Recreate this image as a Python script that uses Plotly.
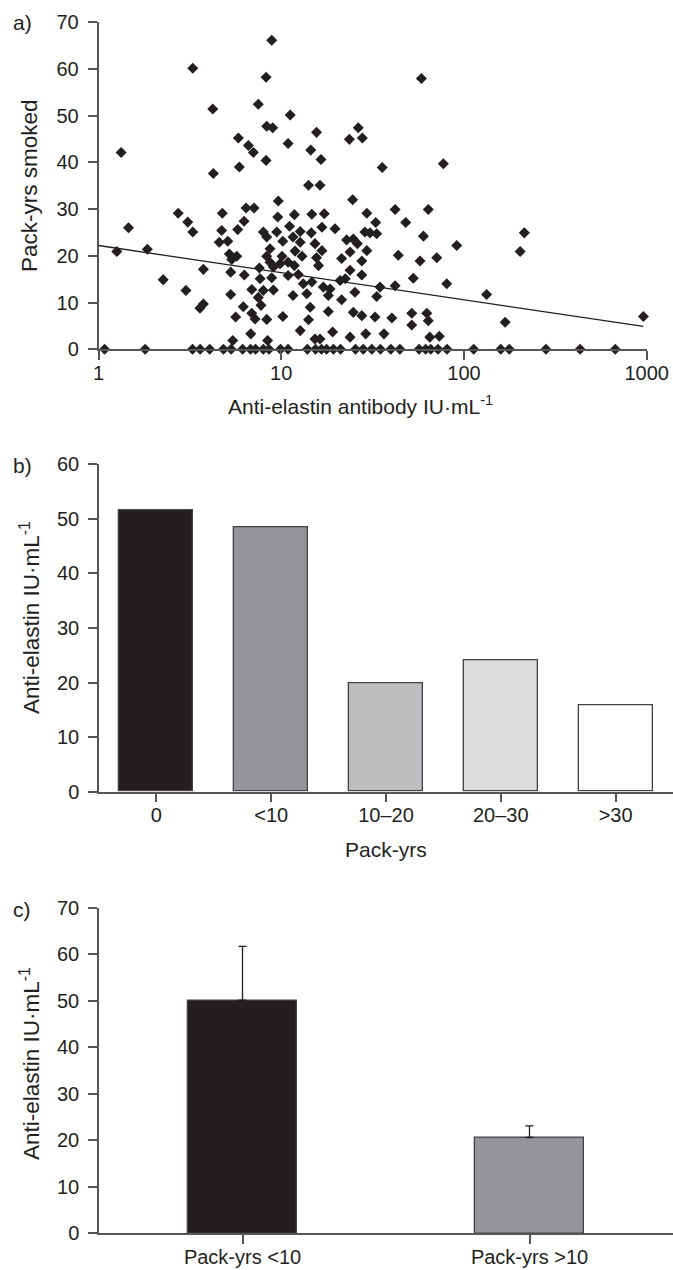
import plotly.graph_objects as go

# ---------------- Panel a: scatter data ----------------
smoker_antibody = [
    8.87, 3.28, 8.26, 4.22, 7.49, 8.33, 8.98, 5.83, 6.61, 7.04, 1.33, 8.26, 5.90, 4.25,
    58.5, 11.2, 15.6, 10.9, 26.4, 23.6, 27.8, 14.5, 16.5, 35.7, 77.1,
    2.73, 4.76, 6.42, 7.10, 1.46, 3.08, 3.28, 4.72, 5.78, 6.26, 7.98, 8.33, 4.58, 5.10,
    8.68, 1.26, 1.85, 5.20, 5.71, 5.36, 7.59, 3.75, 5.29, 6.28, 7.66, 2.26, 3.01, 5.29,
    6.90, 7.49, 7.98, 7.75, 3.75, 3.59, 6.20, 6.90, 5.63, 7.19, 8.33, 6.81, 5.43,
    14.1, 16.3, 9.64, 24.6, 42.0, 63.8, 29.4, 48.0, 32.9, 9.57, 11.8, 14.7, 17.2, 11.1,
    16.7, 19.7, 12.7, 14.6, 28.7, 30.6, 33.3, 60.0, 9.45, 11.6, 22.8, 24.8, 26.1, 10.2,
    12.7, 15.3, 16.7, 29.4, 11.9, 23.8, 8.33, 10.1, 13.0, 15.6, 21.4, 43.7, 57.5, 71.0,
    27.6, 8.68, 9.85, 10.9, 11.8, 16.0, 9.06, 23.8, 10.9, 12.4, 21.0, 22.4, 27.6, 8.87,
    34.7, 42.0, 52.8, 13.2, 14.7, 17.0, 18.5, 9.06, 13.8, 11.6, 18.1, 21.4, 25.3, 33.3,
    14.4, 18.1, 24.8, 27.6, 32.6, 40.3, 51.8, 62.6, 63.8, 51.8, 10.2, 14.1, 12.7, 19.1,
    23.8, 29.0, 36.5, 15.3, 16.3, 65.0,
    214, 91.3, 203, 80.5, 133, 168, 959, 73.3, 8.42,
]
smoker_packyrs = [
    66.1, 60.1, 58.2, 51.4, 52.4, 47.7, 47.4, 45.2, 43.6, 42.1, 42.1, 40.4, 39.0, 37.6,
    57.9, 50.1, 46.4, 44.0, 47.4, 44.9, 45.2, 42.6, 40.6, 38.9, 39.7,
    29.1, 29.1, 30.2, 30.2, 26.0, 27.2, 25.1, 25.4, 25.6, 27.4, 25.1, 24.0, 22.9, 23.1,
    21.5, 20.9, 21.4, 20.4, 19.9, 19.2, 17.4, 17.1, 16.5, 15.9, 15.1, 14.9, 12.6, 11.7,
    12.8, 11.1, 12.6, 9.4, 9.7, 8.8, 9.1, 7.7, 6.9, 6.5, 6.4, 3.3, 1.9,
    35.1, 35.1, 31.7, 32.0, 29.9, 29.9, 29.1, 27.1, 27.1, 28.3, 28.8, 28.9, 29.0, 26.3,
    26.1, 25.8, 25.2, 24.9, 25.1, 24.9, 24.7, 24.2, 25.1, 24.0, 23.4, 23.6, 22.6, 23.1,
    22.9, 22.6, 21.1, 21.1, 21.0, 20.8, 19.9, 19.9, 19.9, 19.6, 19.4, 20.1, 18.9, 19.6,
    18.9, 18.6, 18.3, 18.6, 17.9, 17.9, 17.6, 16.9, 15.8, 16.0, 14.7, 15.1, 15.9, 15.3,
    13.3, 13.6, 15.2, 14.0, 14.4, 13.3, 12.9, 12.7, 11.9, 11.5, 11.5, 10.6, 12.2, 11.3,
    9.0, 8.1, 7.9, 7.2, 6.9, 6.7, 7.7, 7.7, 6.1, 5.2, 7.0, 6.3, 4.0, 3.7,
    2.6, 3.3, 3.3, 2.2, 2.2, 2.6,
    24.9, 22.2, 20.9, 14.0, 11.7, 5.8, 7.0, 2.8, 1.9,
]
nonsmoker_antibody = [
    1.08, 1.80, 3.27, 3.60, 4.06, 4.83, 5.32, 6.15, 6.79, 7.24, 7.98, 8.57, 9.91, 10.9,
    13.9, 15.4, 16.6, 17.7, 19.3, 21.1, 25.5, 28.1, 31.3, 34.9, 39.8, 44.6, 56.8, 61.7,
    65.8, 72.1, 80.8, 113, 159, 177, 281, 432, 673,
]
fit_antibody = [1, 959]
fit_packyrs = [22.2, 4.9]

a_tickvals = [1, 10, 100, 1000]
a_ticktext = ["1", "10", "100", "1000"]

# ---------------- Panel b ----------------
b_categories = ["0", "<10", "10–20", "20–30", ">30"]
b_values = [51.6, 48.5, 19.9, 24.1, 15.9]
b_colors = ["#231f20", "#939598", "#bcbec0", "#dcddde", "#ffffff"]

# ---------------- Panel c ----------------
c_categories = ["Pack-yrs <10", "Pack-yrs >10"]
c_values = [50.1, 20.6]
c_errors = [11.6, 2.5]
c_colors = ["#231f20", "#939598"]

# ---------------- Figure ----------------
W, H = 673, 1270
TXT = "#231f20"
AX = "#555557"
FONT = "Liberation Sans, Arial, sans-serif"
TICK_SIZE = 20
XTITLE_SIZE = 21
YTITLE_SIZE = 22.5


def fx(p):
    return p / W


def fy(p):
    return 1 - p / H


all_x = smoker_antibody + nonsmoker_antibody
all_y = smoker_packyrs + [0] * len(nonsmoker_antibody)

fig = go.Figure()
fig.add_trace(go.Scatter(
    x=all_x, y=all_y, mode="markers", cliponaxis=False,
    marker=dict(symbol="diamond", size=8.5, color=TXT, line=dict(width=0)),
    xaxis="x", yaxis="y", showlegend=False,
))
fig.add_trace(go.Scatter(
    x=fit_antibody, y=fit_packyrs, mode="lines", cliponaxis=False,
    line=dict(color=TXT, width=1.3), xaxis="x", yaxis="y", showlegend=False,
))
fig.add_trace(go.Bar(
    x=b_categories, y=b_values, width=0.645,
    marker=dict(color=b_colors, line=dict(color="#414042", width=1.3)),
    xaxis="x2", yaxis="y2", showlegend=False,
))
fig.add_trace(go.Bar(
    x=c_categories, y=c_values, width=0.382,
    marker=dict(color=c_colors, line=dict(color="#414042", width=1.3)),
    error_y=dict(type="data", array=c_errors, arrayminus=[0, 0], symmetric=False,
                 color=TXT, thickness=1.3, width=4),
    xaxis="x3", yaxis="y3", showlegend=False,
))

axis_common = dict(
    showline=True, linecolor=AX, linewidth=1.5, ticks="outside", ticklen=9,
    tickwidth=1.5, tickcolor=AX, showgrid=False, zeroline=False,
    tickfont=dict(family=FONT, size=TICK_SIZE, color=TXT), fixedrange=True,
)

fig.update_layout(
    width=W, height=H, margin=dict(l=0, r=0, t=0, b=0, autoexpand=False),
    paper_bgcolor="white", plot_bgcolor="white", bargap=0,
    xaxis=dict(domain=[fx(98.5), fx(646.7)], type="log", range=[0, 3],
               tickvals=a_tickvals, ticktext=a_ticktext, anchor="y",
               ticklabelstandoff=-4, **axis_common),
    yaxis=dict(domain=[fy(349.3), fy(22)], range=[0, 70], dtick=10, tick0=0,
               anchor="x", ticklabelstandoff=5, **axis_common),
    xaxis2=dict(domain=[fx(99), 1], type="category", range=[-0.5, 4.5],
                anchor="y2", ticklabelstandoff=-4, **axis_common),
    yaxis2=dict(domain=[fy(791.7), fy(464.3)], range=[0, 60], dtick=10, tick0=0,
                anchor="x2", ticklabelstandoff=5, **axis_common),
    xaxis3=dict(domain=[fx(99), 1], type="category", range=[-0.5, 1.5],
                anchor="y3", ticklabelstandoff=-4, **axis_common),
    yaxis3=dict(domain=[fy(1233.3), fy(907.7)], range=[0, 70], dtick=10, tick0=0,
                anchor="x3", ticklabelstandoff=5, **axis_common),
)

xfont = dict(family=FONT, size=XTITLE_SIZE, color=TXT)
yfont = dict(family=FONT, size=YTITLE_SIZE, color=TXT)
ann = [
    dict(text="a)", x=fx(22), y=fy(22), xanchor="center", yanchor="middle", font=xfont),
    dict(text="b)", x=fx(22), y=fy(466), xanchor="center", yanchor="middle", font=xfont),
    dict(text="c)", x=fx(22), y=fy(909), xanchor="center", yanchor="middle", font=xfont),
    dict(text="Pack-yrs smoked", x=fx(30), y=fy(186), textangle=-90,
         xanchor="center", yanchor="middle", font=yfont),
    dict(text="Anti-elastin antibody IU·mL<sup>-1</sup>", x=fx(360), y=fy(405),
         xanchor="center", yanchor="middle", font=xfont),
    dict(text="Anti-elastin IU·mL<sup>-1</sup>", x=fx(30), y=fy(618), textangle=-90,
         xanchor="center", yanchor="middle", font=yfont),
    dict(text="Pack-yrs", x=fx(386), y=fy(849),
         xanchor="center", yanchor="middle", font=xfont),
    dict(text="Anti-elastin IU·mL<sup>-1</sup>", x=fx(30), y=fy(1064), textangle=-90,
         xanchor="center", yanchor="middle", font=yfont),
]
for a in ann:
    a.update(xref="paper", yref="paper", showarrow=False)
fig.update_layout(annotations=ann)

fig.write_html("out.html")
